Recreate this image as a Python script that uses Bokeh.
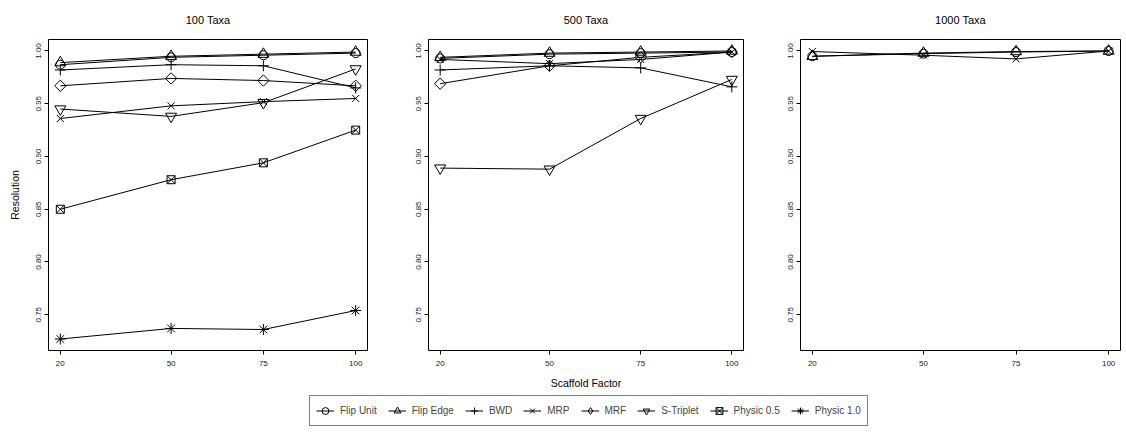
from bokeh.plotting import figure
from bokeh.layouts import column, row
from bokeh.models import (FixedTicker, Range1d, Legend, LegendItem,
                          ColumnDataSource, PrintfTickFormatter)
from bokeh.embed import file_html
from bokeh.resources import INLINE
import math

# ---------------- data ----------------
scaffold = [20, 50, 75, 100]
x_ticks = [20, 50, 75, 100]
y_ticks = [0.75, 0.80, 0.85, 0.90, 0.95, 1.00]
panel_titles = ["100 Taxa", "500 Taxa", "1000 Taxa"]
methods = ["Flip Unit", "Flip Edge", "BWD", "MRP", "MRF", "S-Triplet",
           "Physic 0.5", "Physic 1.0"]

res_100 = {
    "Flip Unit":  [0.987, 0.994, 0.996, 0.998],
    "Flip Edge":  [0.989, 0.995, 0.997, 0.999],
    "BWD":        [0.982, 0.987, 0.986, 0.965],
    "MRP":        [0.936, 0.948, 0.952, 0.955],
    "MRF":        [0.967, 0.974, 0.972, 0.967],
    "S-Triplet":  [0.945, 0.938, 0.951, 0.983],
    "Physic 0.5": [0.850, 0.878, 0.894, 0.925],
    "Physic 1.0": [0.727, 0.737, 0.736, 0.754],
}
res_500 = {
    "Flip Unit":  [0.993, 0.997, 0.998, 0.999],
    "Flip Edge":  [0.994, 0.998, 0.999, 1.000],
    "BWD":        [0.982, 0.986, 0.984, 0.966],
    "MRP":        [0.992, 0.988, 0.992, 0.999],
    "MRF":        [0.969, 0.986, 0.994, 0.999],
    "S-Triplet":  [0.889, 0.888, 0.936, 0.973],
}
res_1000 = {
    "Flip Unit":  [0.995, 0.9975, 0.999, 1.000],
    "Flip Edge":  [0.995, 0.998, 0.9995, 1.000],
    "MRP":        [0.9995, 0.996, 0.9925, 1.000],
}

# ---------------- styles ----------------
FONT = "Liberation Sans"
marker_style = {
    "Flip Unit":  dict(marker="circle", size=9, angle=0, legend="circle"),
    "Flip Edge":  dict(marker="triangle", size=11, angle=0, legend="triangle"),
    "BWD":        dict(marker="cross", size=11, angle=0, legend="cross"),
    "MRP":        dict(marker="x", size=10, angle=0, legend="x"),
    "MRF":        dict(marker="square", size=8, angle=math.pi / 4, legend="diamond"),
    "S-Triplet":  dict(marker="inverted_triangle", size=11, angle=0, legend="inverted_triangle"),
    "Physic 0.5": dict(marker="square_x", size=8, angle=0, legend="square_x"),
    "Physic 1.0": dict(marker="asterisk", size=11, angle=0, legend="asterisk"),
}

X_RANGE = (16.8, 103.2)
Y_RANGE = (0.7161, 1.0109)


def make_panel(title, data, fw, bl, br, ylabel=None, xlabel=None):
    p = figure(frame_width=fw, frame_height=311,
               x_range=Range1d(*X_RANGE), y_range=Range1d(*Y_RANGE),
               output_backend="svg", toolbar_location=None,
               min_border_left=bl, min_border_right=br,
               min_border_top=39, min_border_bottom=45)
    p.title.text = title
    p.title.align = "center"
    p.title.vertical_align = "top"
    p.title.text_font = FONT
    p.title.text_font_size = "11px"
    p.title.text_font_style = "normal"
    p.title.text_color = "black"
    p.title.standoff = 24
    p.xgrid.visible = False
    p.ygrid.visible = False
    p.outline_line_color = "black"
    p.outline_line_alpha = 1
    p.outline_line_width = 1
    p.background_fill_color = "white"
    p.border_fill_color = "white"
    for ax in (p.xaxis[0], p.yaxis[0]):
        ax.axis_line_color = None
        ax.major_tick_out = 4
        ax.major_tick_in = 0
        ax.minor_tick_line_color = None
        ax.major_tick_line_color = "black"
        ax.major_label_text_font = FONT
        ax.major_label_text_font_size = "8px"
        ax.major_label_text_color = "#222222"
        ax.axis_label_text_font = FONT
        ax.axis_label_text_font_size = "10.5px"
        ax.axis_label_text_font_style = "normal"
        ax.axis_label_text_color = "black"
    p.xaxis.ticker = FixedTicker(ticks=x_ticks)
    p.xaxis.major_label_standoff = 6
    p.yaxis.ticker = FixedTicker(ticks=y_ticks)
    p.yaxis.formatter = PrintfTickFormatter(format="%.2f")
    p.yaxis.major_label_orientation = "vertical"
    p.yaxis.major_label_standoff = 3
    if ylabel:
        p.yaxis.axis_label = ylabel
        p.yaxis.axis_label_standoff = 13
    if xlabel:
        p.xaxis.axis_label = xlabel
        p.xaxis.axis_label_standoff = 8
    for m in methods:
        if m not in data:
            continue
        vals = data[m]
        src = ColumnDataSource(dict(x=scaffold, y=vals))
        p.line("x", "y", source=src, line_color="black", line_width=1)
        st = marker_style[m]
        p.scatter("x", "y", source=src, marker=st["marker"], size=st["size"],
                  angle=st["angle"], line_color="black", fill_color=None,
                  line_width=1)
    return p


p1 = make_panel(panel_titles[0], res_100, 319, 48, 21, ylabel="Resolution")
p2 = make_panel(panel_titles[1], res_500, 315, 40, 17, xlabel="Scaffold Factor")
p3 = make_panel(panel_titles[2], res_1000, 320, 40, 6)

# legend strip
lg = figure(width=1126, height=48, output_backend="svg", toolbar_location=None,
            x_range=Range1d(0, 1), y_range=Range1d(0, 1), min_border=0)
lg.axis.visible = False
lg.xgrid.visible = False
lg.ygrid.visible = False
lg.outline_line_color = None
items = []
for m in methods:
    src = ColumnDataSource(dict(x=[float("nan")], y=[float("nan")]))
    lr = lg.line("x", "y", source=src, line_color="black", line_width=1)
    st = marker_style[m]
    sr = lg.scatter("x", "y", source=src, marker=st["legend"],
                    size=8, line_color="black", fill_color=None, line_width=1)
    items.append(LegendItem(label=m, renderers=[lr, sr], index=0))
legend = Legend(items=items, orientation="horizontal", location=(309, 17),
                border_line_color="black", border_line_width=1,
                label_text_font=FONT, label_text_font_size="10px",
                glyph_width=18, glyph_height=17, label_standoff=6,
                spacing=11, padding=6, margin=0,
                background_fill_color="white")
lg.add_layout(legend, "center")

layout = column(row(p1, p2, p3), lg)
open("out.html", "w").write(file_html(layout, INLINE))
